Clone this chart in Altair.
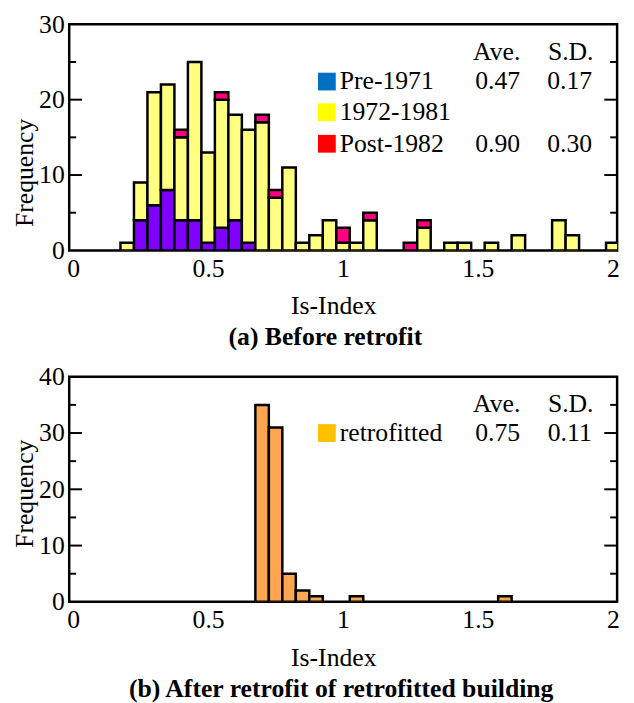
import altair as alt
import pandas as pd

# ---------------- data ----------------
centers_a = [0.20, 0.25, 0.30, 0.35, 0.40, 0.45, 0.50, 0.55, 0.60, 0.65, 0.70, 0.75,
             0.80, 0.85, 0.90, 0.95, 1.00, 1.05, 1.10, 1.25, 1.30, 1.40, 1.45, 1.55,
             1.65, 1.80, 1.85, 2.00]
pre_1971 = [0, 4, 6, 8, 4, 4, 1, 3, 4, 1, 0, 0, 0, 0, 0, 0, 0, 0, 0, 0, 0, 0, 0, 0, 0, 0, 0, 0]
mid_1972_1981 = [1, 5, 15, 14, 11, 21, 12, 17, 14, 15, 17, 7, 11, 1, 2, 4, 1, 1, 4, 0, 3, 1, 1, 1, 2, 4, 2, 1]
post_1982 = [0, 0, 0, 0, 1, 0, 0, 1, 0, 0, 1, 1, 0, 0, 0, 0, 2, 0, 1, 1, 1, 0, 0, 0, 0, 0, 0, 0]

centers_b = [0.70, 0.75, 0.80, 0.85, 0.90, 1.05, 1.60]
retrofitted = [35, 31, 5, 2, 1, 1, 1]

bin_width = 0.05

groups_a = ["Pre-1971", "1972-1981", "Post-1982"]
bar_colors_a = ["#8000FF", "#FFFF80", "#FF0080"]
swatch_colors_a = ["#0070C0", "#FFFF00", "#FF0000"]
ave_a = ["0.47", "", "0.90"]
sd_a = ["0.17", "", "0.30"]

groups_b = ["retrofitted"]
bar_colors_b = ["#FFA652"]
swatch_colors_b = ["#FFC000"]
ave_b = ["0.75"]
sd_b = ["0.11"]

yticks_a_major = [10, 20]
yticks_a_minor = [5, 15, 25]
yticks_b_major = [10, 20, 30]
yticks_b_minor = [5, 15, 25, 35]

# ---------------- tables ----------------
rows = []
series_a = [pre_1971, mid_1972_1981, post_1982]
for i, c in enumerate(centers_a):
    base = 0
    for g, s in zip(groups_a, series_a):
        n = s[i]
        if n > 0:
            rows.append({"x0": c - bin_width / 2, "x1": c + bin_width / 2,
                         "y0": base, "y1": base + n, "group": g})
            base += n
df_a = pd.DataFrame(rows)

df_b = pd.DataFrame({
    "x0": [c - bin_width / 2 for c in centers_b],
    "x1": [c + bin_width / 2 for c in centers_b],
    "y0": [0] * len(centers_b),
    "y1": retrofitted,
    "group": ["retrofitted"] * len(centers_b),
})

FONT = "Liberation Serif"
FS = 26
W = 555
XDOM = [-0.015, 2.016]


def panel(df, groups, bar_colors, swatch_colors, aves, sds, ymax, yvals,
          major, minor, H, title_text, title_dx, freq_y, rows_y, head_y):
    xs = alt.Scale(domain=XDOM, nice=False, zero=False)
    ys = alt.Scale(domain=[0, ymax], nice=False)
    bars = alt.Chart(df).mark_bar(stroke="black", strokeWidth=2.5, clip=True).encode(
        x=alt.X("x0:Q", scale=xs,
                axis=alt.Axis(values=[0, 0.5, 1, 1.5, 2], labelExpr="datum.value",
                              title="Is-Index", ticks=False, domain=False, grid=False,
                              labelFlush=False, labelPadding=5, titlePadding=12,
                              titleX=W / 2 - 10)),
        x2="x1:Q",
        y=alt.Y("y0:Q", scale=ys,
                axis=alt.Axis(values=yvals, title="Frequency", ticks=False, domain=False,
                              grid=False, labelPadding=5, titleX=-45, titleY=freq_y,
                              titleAlign="center", titleBaseline="middle")),
        y2="y1:Q",
        color=alt.Color("group:N", scale=alt.Scale(domain=groups, range=bar_colors), legend=None),
    )
    layers = [bars]
    for vals, ln in ((major, 13), (minor, 7)):
        tdf = pd.DataFrame({"v": vals})
        layers.append(alt.Chart(tdf).mark_rule(color="black", strokeWidth=2).encode(
            y=alt.Y("v:Q", scale=ys), x=alt.value(0), x2=alt.value(ln)))
        layers.append(alt.Chart(tdf).mark_rule(color="black", strokeWidth=2).encode(
            y=alt.Y("v:Q", scale=ys), x=alt.value(W - ln), x2=alt.value(W)))

    def txt(t, x, y, align="center"):
        return alt.Chart(pd.DataFrame({"t": [t]})).mark_text(
            font=FONT, fontSize=FS, color="black", align=align, baseline="middle"
        ).encode(text="t:N", x=alt.value(x), y=alt.value(y))

    layers.append(txt("Ave.", 433, head_y))
    layers.append(txt("S.D.", 508, head_y))
    for g, sc, a, s, ry in zip(groups, swatch_colors, aves, sds, rows_y):
        sw = alt.Chart(pd.DataFrame({"t": [g]})).mark_rect(color=sc).encode(
            x=alt.value(252), x2=alt.value(270), y=alt.value(ry - 9), y2=alt.value(ry + 9))
        layers.append(sw)
        layers.append(txt(g, 274, ry, "left"))
        if a:
            layers.append(txt(a, 434, ry))
            layers.append(txt(s, 507, ry))

    return alt.layer(*layers).properties(
        width=W, height=H,
        title=alt.TitleParams(title_text, orient="bottom", font=FONT, fontSize=FS,
                              fontWeight="bold", color="black", offset=6, dx=title_dx),
    )


top = panel(df_a, groups_a, bar_colors_a, swatch_colors_a, ave_a, sd_a, 30, [0, 10, 20, 30],
            yticks_a_major, yticks_a_minor, 229, "(a) Before retrofit", -18, 150,
            [58, 89, 121], 28)
bottom = panel(df_b, groups_b, bar_colors_b, swatch_colors_b, ave_b, sd_b, 40, [0, 10, 20, 30, 40],
               yticks_b_major, yticks_b_minor, 228, "(b) After retrofit of retrofitted building", -2, 118,
               [57], 28)

chart = alt.vconcat(top, bottom, spacing=10).resolve_scale(color="independent").configure(
    padding={"left": 2, "top": -3, "right": 5, "bottom": 0}
).configure_view(
    stroke="black", strokeWidth=2.5
).configure_axis(
    labelFont=FONT, labelFontSize=FS, labelColor="black",
    titleFont=FONT, titleFontSize=FS, titleFontWeight="normal", titleColor="black",
)

chart.save("out.html", embed_options={"renderer": "svg", "actions": False})
